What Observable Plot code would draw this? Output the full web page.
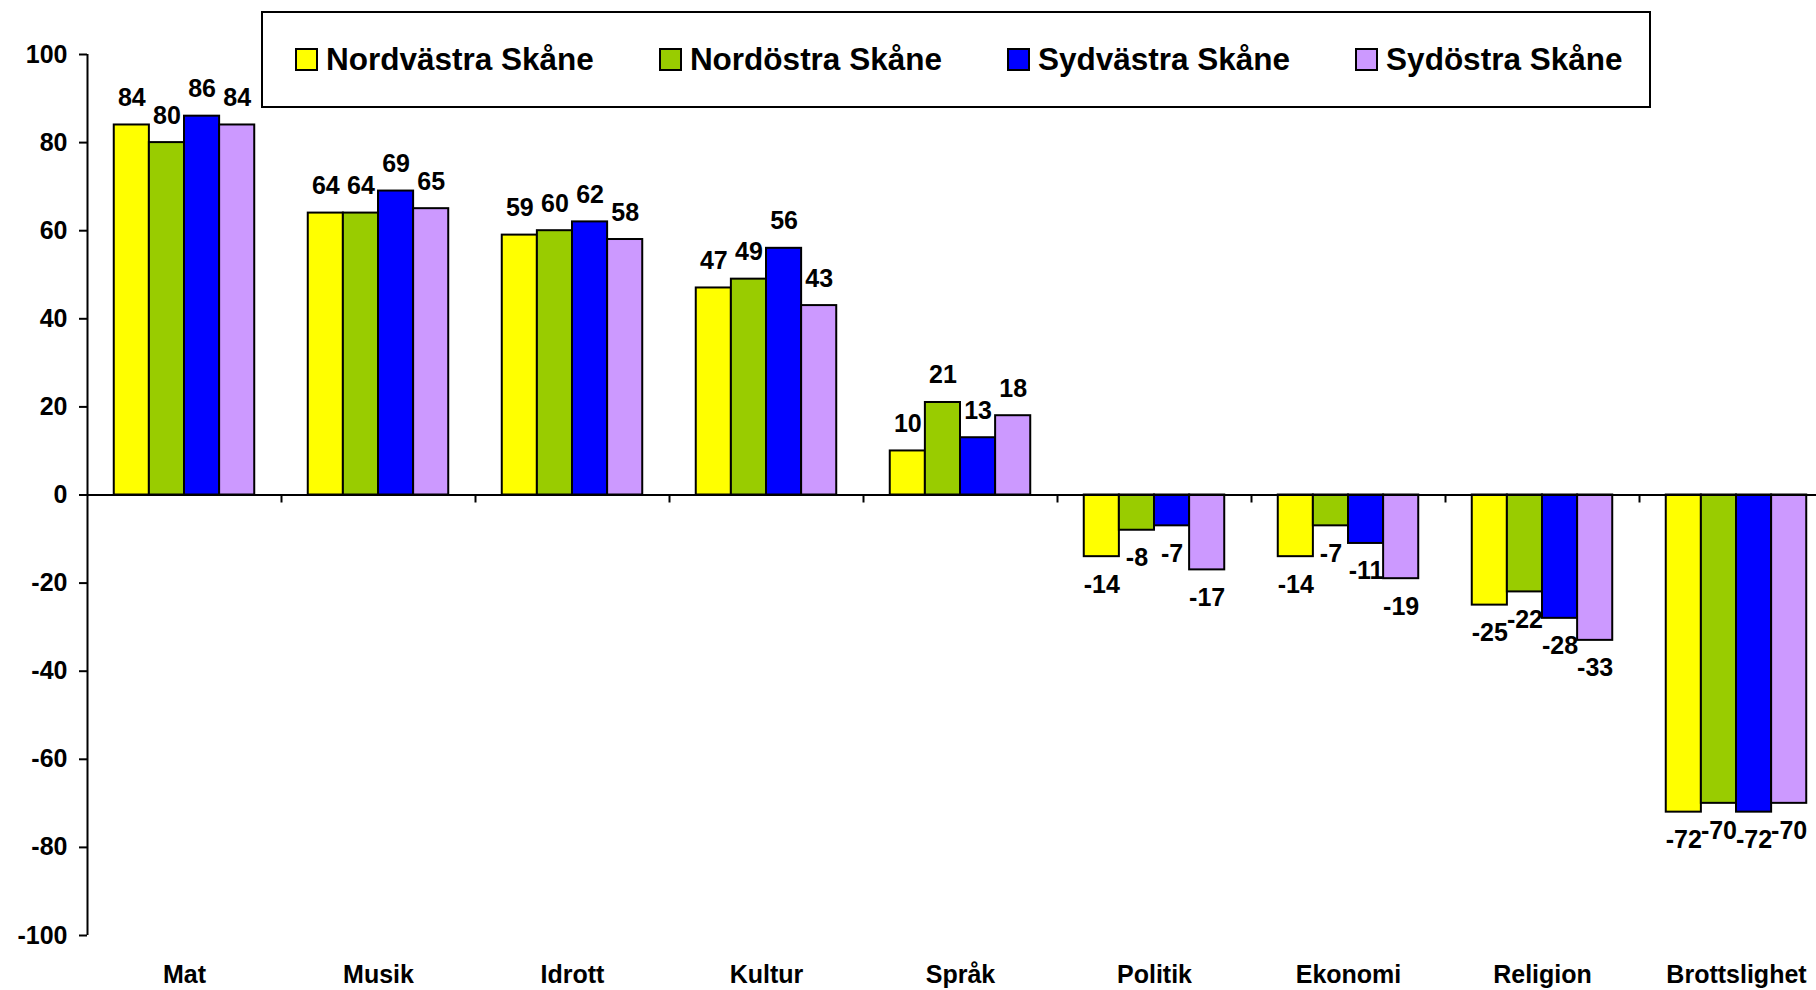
<!DOCTYPE html>
<html>
<head>
<meta charset="utf-8">
<script src="https://cdn.jsdelivr.net/npm/d3@7"></script>
<script src="https://cdn.jsdelivr.net/npm/@observablehq/plot@0.6"></script>
<style>
  html, body { margin: 0; padding: 0; background: #fff; }
  #wrap { position: relative; width: 1816px; height: 990px; font-family: "Liberation Sans", Arial, sans-serif; font-weight: bold; }
  #legend { position: absolute; left: 261px; top: 11px; width: 1390px; height: 97px; border: 2px solid #000; background: #fff; display: flex; align-items: center; padding-left: 32px; box-sizing: border-box; }
  .item { display: flex; align-items: center; margin-right: 65px; font-size: 31.5px; color: #000; white-space: nowrap; }
  .sw { width: 19px; height: 19px; border: 2px solid #000; margin-right: 8px; }
</style>
</head>
<body>
<div id="wrap"><div id="chart"></div><div id="legend"></div></div>
<script>
const categories = ["Mat", "Musik", "Idrott", "Kultur", "Språk", "Politik", "Ekonomi", "Religion", "Brottslighet"];
const series = ["Nordvästra Skåne", "Nordöstra Skåne", "Sydvästra Skåne", "Sydöstra Skåne"];
const colors = ["#FFFF00", "#99CC00", "#0000FF", "#CC99FF"];
const nordvastra = [84, 64, 59, 47, 10, -14, -14, -25, -72];
const nordostra  = [80, 64, 60, 49, 21, -8, -7, -22, -70];
const sydvastra  = [86, 69, 62, 56, 13, -7, -11, -28, -72];
const sydostra   = [84, 65, 58, 43, 18, -17, -19, -33, -70];
const yTicks = [-100, -80, -60, -40, -20, 0, 20, 40, 60, 80, 100];

const values = [nordvastra, nordostra, sydvastra, sydostra];
const data = categories.flatMap((c, ci) => series.map((s, si) => ({category: c, series: s, si, value: values[si][ci]})));
const pad = 0.762;
const font = "Liberation Sans, Arial, sans-serif";

const chart = Plot.plot({
  width: 1816,
  height: 990,
  marginTop: 54,
  marginBottom: 55,
  marginLeft: 86,
  marginRight: -17,
  style: {fontFamily: font, fontWeight: "bold", fontSize: "25px", background: "white", color: "black"},
  fx: {domain: categories, padding: 0, label: null},
  x: {domain: [-pad, series.length + pad], axis: null},
  y: {domain: [-100, 100], label: null},
  color: {domain: series, range: colors},
  marks: [
    Plot.rectY(data, {fx: "category", x1: "si", x2: d => d.si + 1, y1: 0, y2: "value", fill: "series", stroke: "black", strokeWidth: 2}),
    Plot.ruleY([0], {stroke: "black", strokeWidth: 2}),
    Plot.ruleX([series.length + pad], {y1: 0, y2: 0, insetBottom: -8, stroke: "black", strokeWidth: 2}),
    Plot.ruleX([-pad], {y1: -100, y2: 100, facetAnchor: "left", stroke: "black", strokeWidth: 2}),
    Plot.axisY({ticks: yTicks, tickSize: 8, tickPadding: 12, label: null, strokeWidth: 2, fontSize: 25, tickFormat: d => String(d)}),
    Plot.axisFx({anchor: "bottom", tickSize: 0, tickPadding: 30, label: null, fontSize: 25}),
    Plot.text(data.filter(d => d.value >= 0), {fx: "category", x: d => d.si + 0.5, y: "value", text: d => String(d.value), dy: -27, fontSize: 25, fontWeight: "bold", fill: "black"}),
    Plot.text(data.filter(d => d.value < 0), {fx: "category", x: d => d.si + 0.5, y: "value", text: d => String(d.value), dy: 28, fontSize: 25, fontWeight: "bold", fill: "black"})
  ]
});
document.getElementById("chart").appendChild(chart);

const legend = document.getElementById("legend");
series.forEach((s, i) => {
  const item = document.createElement("div");
  item.className = "item";
  const sw = document.createElement("span");
  sw.className = "sw";
  sw.style.background = colors[i];
  const t = document.createElement("span");
  t.textContent = s;
  item.appendChild(sw);
  item.appendChild(t);
  legend.appendChild(item);
});
</script>
</body>
</html>
